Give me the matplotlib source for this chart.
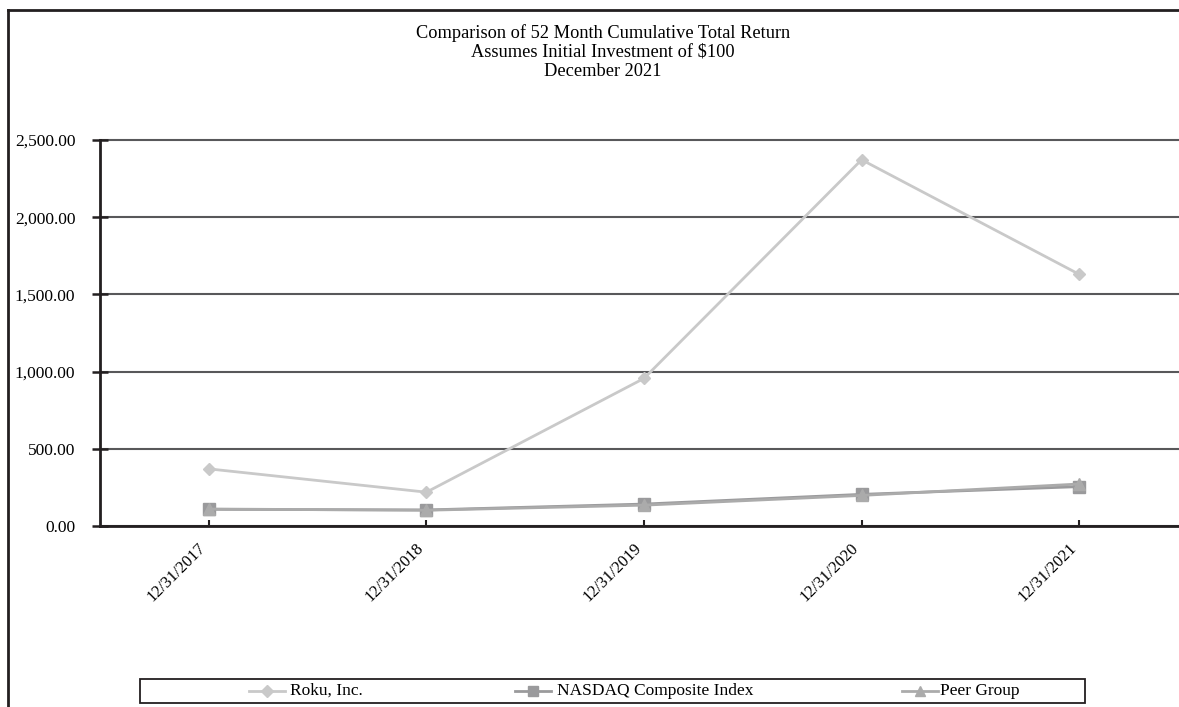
import matplotlib
matplotlib.use("Agg")
import matplotlib.pyplot as plt
from matplotlib.lines import Line2D
from matplotlib.patches import Rectangle

dates = ["12/31/2017", "12/31/2018", "12/31/2019", "12/31/2020", "12/31/2021"]
roku = [370, 219, 956, 2372, 1630]
nasdaq = [108, 104, 142, 205, 255]
peer = [110, 102, 135, 198, 272]
yticks = [0, 500, 1000, 1500, 2000, 2500]
title_lines = ["Comparison of 52 Month Cumulative Total Return",
               "Assumes Initial Investment of $100",
               "December 2021"]
series_names = ["Roku, Inc.", "NASDAQ Composite Index", "Peer Group"]

plt.rcParams['font.family'] = ['Liberation Serif', 'DejaVu Serif']

W, H = 1179, 707
fig = plt.figure(figsize=(W / 100, H / 100), dpi=100)

def fx(px):
    return px / W

def fy(py):
    return 1 - py / H

# axes placement
left, right, top, bottom = 100, 1188, 140, 526
ax = fig.add_axes([fx(left), fy(bottom), fx(right - left), (bottom - top) / H])

x = list(range(len(dates)))
c_roku, c_nas, c_peer = "#c9c9c9", "#9a9a9c", "#ababab"
ax.plot(x, roku, color=c_roku, lw=2, marker="D", ms=6.5, mec=c_roku, mfc=c_roku, zorder=3)
ax.plot(x, nasdaq, color=c_nas, lw=2, marker="s", ms=9, mec=c_nas, mfc=c_nas, zorder=4)
ax.plot(x, peer, color=c_peer, lw=2, marker="^", ms=8, mec=c_peer, mfc=c_peer, zorder=5)

ax.set_xlim(-0.5, 4.5)
ax.set_ylim(0, 2500)
ax.set_yticks(yticks)
ax.set_yticklabels([f"{v:,.2f}" for v in yticks], fontsize=12.5)
ax.set_xticks(x)
ax.set_xticklabels([])
for xi, d in zip(x, dates):
    ax.annotate(d, xy=(xi, 0), xycoords=("data", "axes fraction"),
                xytext=(-11, -14), textcoords="offset pixels",
                rotation=45, ha="right", va="top", rotation_mode="anchor",
                fontsize=12, annotation_clip=False)
ax.yaxis.grid(True, color="#58585a", lw=1.5)
for gl in ax.get_ygridlines():
    gl.set_clip_on(False)
ax.set_axisbelow(True)
for s in ["top", "right"]:
    ax.spines[s].set_visible(False)
for s in ["left", "bottom"]:
    ax.spines[s].set_color("#231f20")
    ax.spines[s].set_linewidth(2)
    ax.spines[s].set_zorder(6)
ax.tick_params(axis="y", direction="inout", length=11.5, width=1.8, color="#231f20", pad=12)
ax.tick_params(axis="x", direction="in", length=4, width=1.5, color="#231f20", pad=11)

# title
for i, t in enumerate(title_lines):
    fig.text(fx(603), fy(33 + i * 19.5), t, ha="center", va="center", fontsize=13.2)

# outer frame
fig.add_artist(Line2D([fx(8), fx(8)], [fy(10), fy(720)], color="#231f20", lw=2))
fig.add_artist(Line2D([fx(8), fx(1190)], [fy(10), fy(10)], color="#231f20", lw=2))

# legend box
fig.add_artist(Rectangle((fx(140), fy(703)), fx(1085 - 140), (703 - 679) / H,
                         fill=False, ec="#231f20", lw=1.3))
ly = fy(691)
entries = [(267, c_roku, "D", 6, 290), (533, c_nas, "s", 6.5, 557), (920, c_peer, "^", 6.5, 940)]
for (mx, col, mk, ms, tx), name in zip(entries, series_names):
    fig.add_artist(Line2D([fx(mx - 18), fx(mx + 18)], [ly, ly], color=col, lw=2))
    fig.add_artist(Line2D([fx(mx)], [ly], color=col, marker=mk, ms=ms, mec=col, mfc=col, lw=0))
    fig.text(fx(tx), ly, name, ha="left", va="center", fontsize=12.5)

fig.savefig("out.png", dpi=100)
